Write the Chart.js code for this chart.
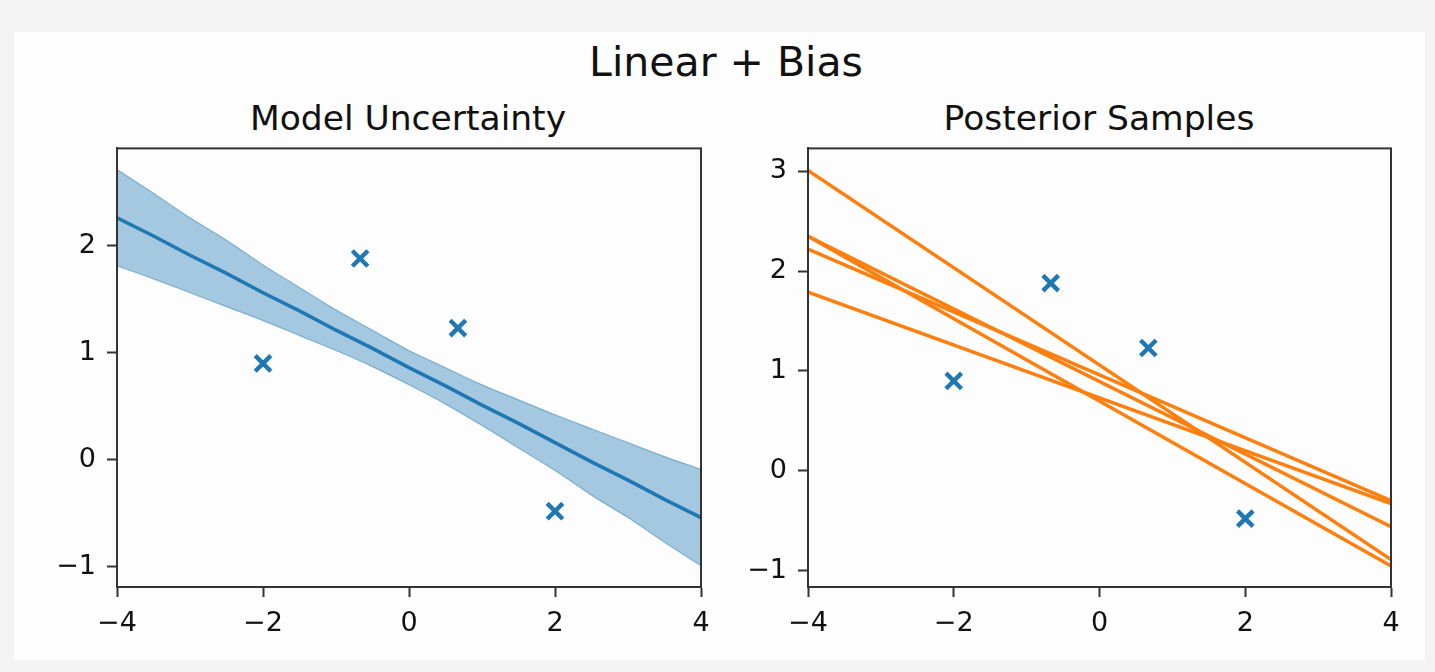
<!DOCTYPE html>
<html>
<head>
<meta charset="utf-8">
<title>Linear + Bias</title>
<script src="https://cdn.jsdelivr.net/npm/chart.js@4.4.1/dist/chart.umd.min.js"></script>
<style>
    body {
        margin: 0;
        width: 1435px;
        height: 672px;
        background: #f3f3f3;
        position: relative;
        overflow: hidden;
        font-family: "DejaVu Sans", sans-serif;
        color: #111;
    }
    #figure { position: absolute; left: 14px; top: 32px; width: 1411px; height: 628px; background: #fdfdfd; }
    .title { position: absolute; white-space: nowrap; line-height: 1; transform: translateX(-50%); }
    #suptitle { left: 726px; top: 42px; font-size: 41px; }
    .sub { top: 101px; font-size: 34.5px; }
    canvas { position: absolute; top: 133px; }
    #uncertainty { left: 40px; }
    #samples { left: 731px; }
</style>
</head>
<body>
<div id="figure"></div>
<div class="title" id="suptitle">Linear + Bias</div>
<div class="title sub" style="left:408px">Model Uncertainty</div>
<div class="title sub" style="left:1099px">Posterior Samples</div>
<canvas id="uncertainty" width="680" height="520"></canvas>
<canvas id="samples" width="690" height="520"></canvas>

<script>
// observed points
const obsX = [-2, -0.67, 0.67, 2];
const obsY = [0.90, 1.88, 1.23, -0.48];

// predictive mean and +/- band
const bandX = [-4, -3.5, -3, -2.5, -2, -1.5, -1, -0.5, 0, 0.5, 1, 1.5, 2, 2.5, 3, 3.5, 4];
const meanY = [2.26, 2.09, 1.91, 1.74, 1.56, 1.39, 1.21, 1.04, 0.86, 0.69, 0.51, 0.34, 0.16, -0.02, -0.19, -0.37, -0.54];
const upperY = [2.71, 2.49, 2.26, 2.05, 1.82, 1.61, 1.40, 1.21, 1.02, 0.86, 0.70, 0.56, 0.42, 0.29, 0.16, 0.03, -0.09];
const lowerY = [1.81, 1.69, 1.56, 1.43, 1.30, 1.16, 1.02, 0.87, 0.70, 0.52, 0.32, 0.11, -0.10, -0.33, -0.54, -0.77, -0.99];

// sampled lines, value at x = -4 and x = 4
const sampleX = [-4, 4];
const sampleY = [
    [3.01, -0.89],
    [2.35, -0.955],
    [2.35, -0.56],
    [2.22, -0.30],
    [1.79, -0.33]
];

// axis ticks and limits
const xTicks = [-4, -2, 0, 2, 4];
const leftYTicks = [-1, 0, 1, 2];
const rightYTicks = [-1, 0, 1, 2, 3];
const leftYRange = [-1.188, 2.908];
const rightYRange = [-1.165, 3.23];

const BLUE = '#1f77b4';
const ORANGE = '#ff7f0e';
const SPINE = '#333';

const pts = (xs, ys) => xs.map((x, i) => ({ x: x, y: ys[i] }));
const fmt = v => v < 0 ? '\u2212' + Math.abs(v) : String(v);

// box around the plotting area (top and right spines included)
const frame = {
    id: 'frame',
    afterDraw(chart) {
        const { ctx, chartArea: a } = chart;
        ctx.save();
        ctx.strokeStyle = SPINE;
        ctx.lineWidth = 2;
        ctx.strokeRect(a.left, a.top, a.right - a.left, a.bottom - a.top);
        ctx.restore();
    }
};

function axes(yRange, yTicks, padRight) {
    const tickFont = { family: '"DejaVu Sans", sans-serif', size: 27 };
    return {
        responsive: false,
        animation: false,
        events: [],
        layout: { padding: { left: 0, top: 0, right: padRight, bottom: 0 } },
        plugins: { legend: { display: false }, tooltip: { enabled: false } },
        scales: {
            x: {
                type: 'linear',
                min: -4,
                max: 4,
                afterBuildTicks: s => { s.ticks = xTicks.map(v => ({ value: v })); },
                afterFit: s => { s.height = 66; s.paddingLeft = 0; s.paddingRight = 0; },
                grid: { drawOnChartArea: false, tickLength: 10, tickColor: SPINE, tickWidth: 2 },
                border: { color: SPINE, width: 2 },
                ticks: { font: tickFont, color: '#111', padding: 11, maxRotation: 0, callback: fmt }
            },
            y: {
                type: 'linear',
                min: yRange[0],
                max: yRange[1],
                afterBuildTicks: s => { s.ticks = yTicks.map(v => ({ value: v })); },
                afterFit: s => { s.width = 77; s.paddingTop = 0; s.paddingBottom = 0; },
                grid: { drawOnChartArea: false, tickLength: 10, tickColor: SPINE, tickWidth: 2 },
                border: { color: SPINE, width: 2 },
                ticks: { font: tickFont, color: '#111', padding: 11, callback: fmt }
            }
        }
    };
}

const observed = {
    type: 'scatter',
    data: pts(obsX, obsY),
    pointStyle: 'crossRot',
    pointRadius: 11,
    borderWidth: 4.4,
    borderColor: BLUE,
    backgroundColor: BLUE,
    order: 0
};

const edge = {
    borderColor: 'rgba(31,119,180,0.45)',
    borderWidth: 1.2,
    pointRadius: 0,
    cubicInterpolationMode: 'monotone'
};

new Chart(document.getElementById('uncertainty'), {
    type: 'line',
    data: {
        datasets: [
            observed,
            { data: pts(bandX, meanY), borderColor: BLUE, borderWidth: 3.6, pointRadius: 0, fill: false, order: 1 },
            Object.assign({ data: pts(bandX, upperY), backgroundColor: 'rgba(31,119,180,0.4)', fill: '+1', order: 2 }, edge),
            Object.assign({ data: pts(bandX, lowerY), fill: false, order: 3 }, edge)
        ]
    },
    options: axes(leftYRange, leftYTicks, 19),
    plugins: [frame]
});

const sampleSets = sampleY.map((ys, i) => ({
    data: pts(sampleX, ys),
    borderColor: ORANGE,
    borderWidth: 3.5,
    pointRadius: 0,
    fill: false,
    order: i + 1
}));

new Chart(document.getElementById('samples'), {
    type: 'line',
    data: { datasets: [observed].concat(sampleSets) },
    options: axes(rightYRange, rightYTicks, 30),
    plugins: [frame]
});
</script>
</body>
</html>
